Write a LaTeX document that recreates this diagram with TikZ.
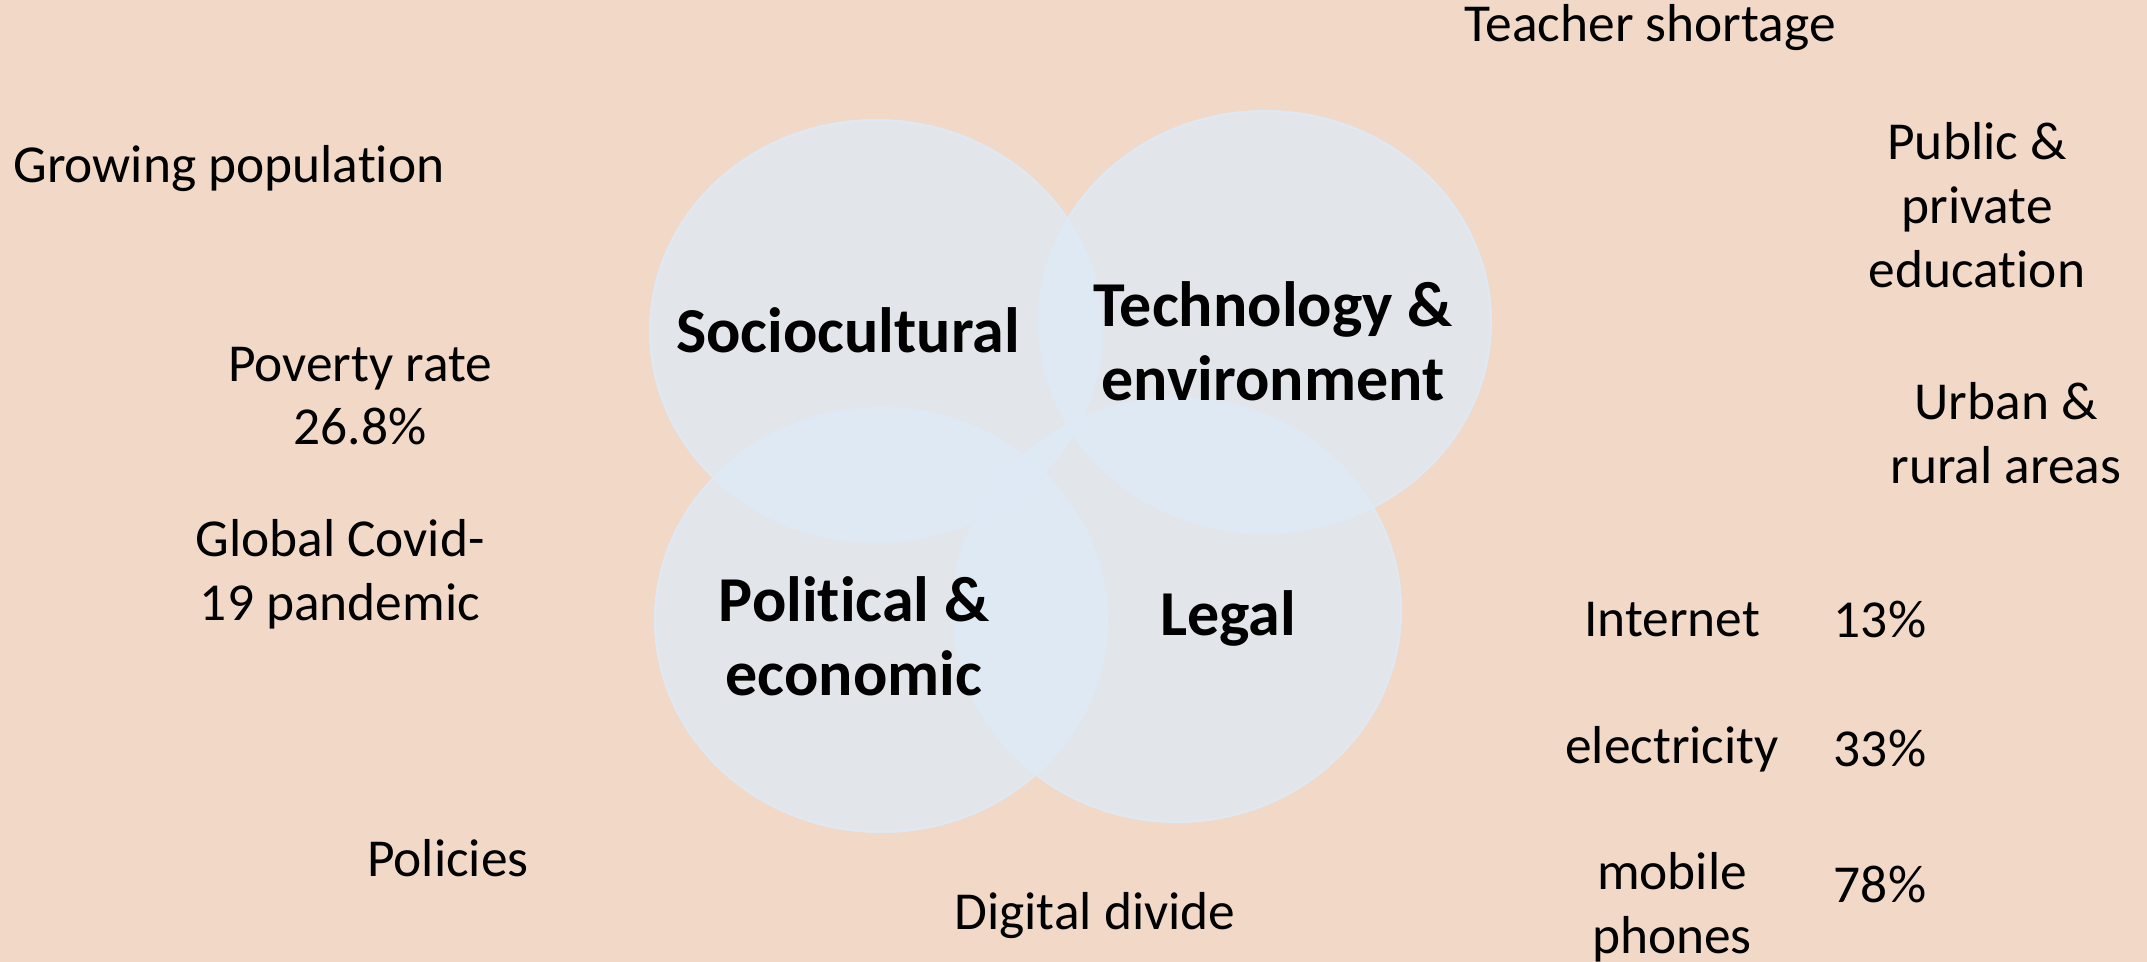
\documentclass[tikz,border=0pt]{standalone}
\usepackage{fontspec}
\setmainfont[Ligatures=NoCommon]{Carlito}
\definecolor{peach}{RGB}{242,217,199}
\definecolor{paleblue}{RGB}{222,234,246}
\begin{document}
\begin{tikzpicture}[x=0.5pt,y=-0.5pt,
  plain/.style={inner sep=0pt,align=center,font=\fontsize{26.7}{31.85}\selectfont},
  topic/.style={inner sep=0pt,align=center,font=\fontsize{32}{37}\selectfont\bfseries},
  bubble/.style={fill=paleblue,fill opacity=0.78,draw=paleblue,draw opacity=0.9,line width=1pt}]
\fill[peach] (0,0) rectangle (2147,962);
\useasboundingbox (0,0) rectangle (2147,962);

% four overlapping ellipses
\path[bubble] (876,331) ellipse [x radius=226,y radius=211];
\path[bubble] (1265,322) ellipse [x radius=226,y radius=211];
\path[bubble] (881,620) ellipse [x radius=226,y radius=212];
\path[bubble] (1177,610) ellipse [x radius=224,y radius=212];

% ellipse titles
\node[topic] (socio) at (848,330) {Sociocultural};
\node[topic] (tech) at (1273,341) {Technology \&\\environment};
\node[topic] (polit) at (854,636) {Political \&\\economic};
\node[topic] (legal) at (1228,618) {Legal};

% surrounding factors
\node[plain] (teacher) at (1650,28) {Teacher shortage};
\node[plain,anchor=west] (growing) at (13,169) {Growing population};
\node[plain] (public) at (1977,205) {Public \&\\private\\education};
\node[plain] (poverty) at (360,396) {Poverty rate\\26.8\%};
\node[plain] (urban) at (2006,433) {Urban \&\\rural areas};
\node[plain] (covid) at (340,574) {Global Covid-\\19 pandemic};
\node[plain] (policies) at (448,858) {Policies};
\node[plain] (digital) at (1095,916) {Digital divide};

% access statistics
\node[plain] (internet) at (1672,620) {Internet};
\node[plain] (pinternet) at (1880,620) {13\%};
\node[plain] (electricity) at (1672,749) {electricity};
\node[plain] (pelectricity) at (1880,749) {33\%};
\node[plain] (mobile) at (1672,907) {mobile\\phones};
\node[plain] (pmobile) at (1880,884) {78\%};
\end{tikzpicture}
\end{document}
